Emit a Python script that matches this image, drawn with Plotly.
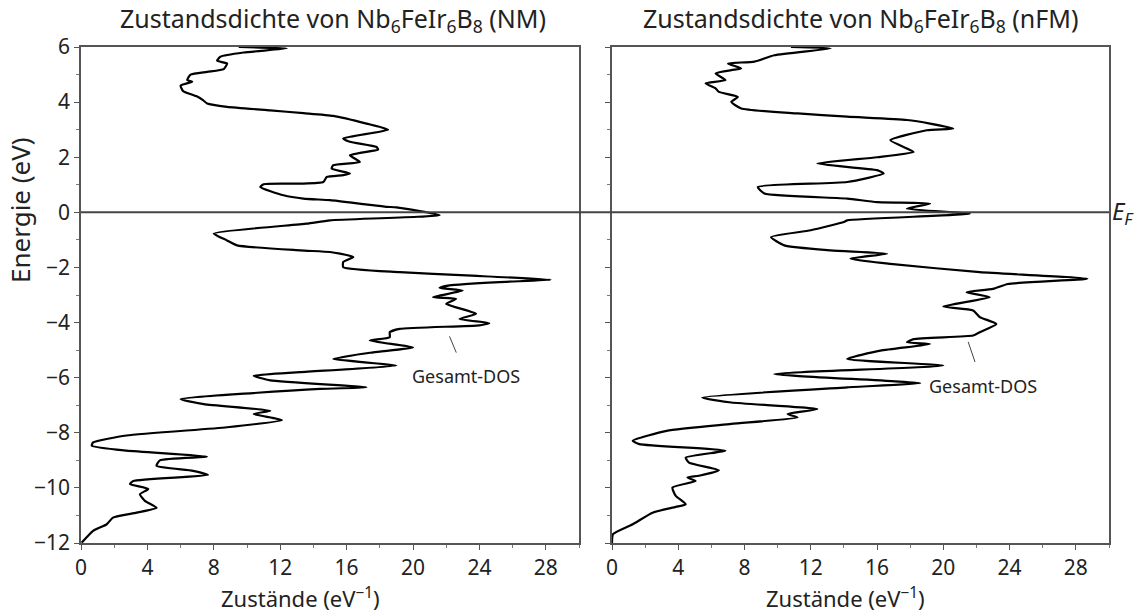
import plotly.graph_objects as go

# NM (non-magnetic) total DOS: energy (eV) and states (1/eV)
nm_energy = [6.00, 5.95, 5.80, 5.65, 5.50, 5.40, 5.20, 5.10, 5.00, 4.80, 4.74, 4.60, 4.40, 4.20, 4.07, 3.95,
             3.83, 3.70, 3.60, 3.50, 3.22, 3.00, 2.68, 2.56, 2.37, 2.28, 2.07, 1.83, 1.71, 1.59, 1.41, 1.35,
             1.28, 1.10, 1.04, 1.02, 0.92, 0.62, 0.50, 0.44, 0.30, 0.20, 0.18, -0.10, -0.29, -0.41, -0.77,
             -1.02, -1.20, -1.38, -1.44, -1.50, -1.62, -1.80, -1.99, -2.17, -2.29, -2.45, -2.53, -2.65,
             -2.74, -2.84, -3.08, -3.14, -3.32, -3.68, -3.87, -4.02, -4.10, -4.23, -4.35, -4.53, -4.65,
             -4.90, -5.08, -5.32, -5.56, -5.80, -5.93, -6.10, -6.35, -6.41, -6.78, -6.96, -7.20, -7.32,
             -7.54, -7.80, -8.10, -8.35, -8.47, -8.65, -8.87, -9.00, -9.20, -9.38, -9.53, -9.75, -9.86,
             -10.04, -10.23, -10.47, -10.72, -10.90, -11.08, -11.32, -11.56, -11.99]
nm_dos = [9.5, 12.4, 9.8, 8.4, 8.2, 8.8, 8.6, 7.6, 6.6, 6.4, 6.7, 6.0, 6.15, 7.0, 7.35, 7.6,
          8.8, 11.4, 13.4, 15.2, 17.2, 18.5, 15.8, 16.2, 17.8, 17.9, 16.2, 16.8, 15.2, 15.1, 16.2, 15.8,
          14.8, 14.6, 13.2, 11.0, 10.8, 12.2, 13.4, 15.0, 17.0, 18.4, 19.0, 21.6, 15.0, 13.6, 8.0,
          8.8, 9.4, 13.2, 15.0, 15.6, 16.4, 15.8, 15.8, 19.2, 23.2, 28.3, 25.2, 22.2,
          21.6, 23.0, 21.2, 22.6, 22.0, 23.8, 22.8, 24.6, 24.0, 19.2, 18.6, 18.6, 17.4,
          20.0, 17.6, 15.2, 19.0, 13.2, 10.4, 11.4, 17.2, 14.4, 6.0, 7.4, 11.4, 10.4,
          12.1, 8.8, 2.75, 0.73, 0.65, 2.75, 7.6, 4.75, 4.55, 6.75, 7.65, 3.15, 2.95,
          4.05, 3.55, 3.85, 4.55, 3.35, 1.93, 1.55, 0.73, 0.04]

# nFM total DOS
fm_energy = [6.00, 5.95, 5.70, 5.47, 5.40, 5.22, 5.16, 5.04, 4.80, 4.68, 4.50, 4.37, 4.19, 4.01, 3.77, 3.59,
             3.47, 3.35, 3.22, 3.04, 2.98, 2.62, 2.32, 2.19, 2.00, 1.77, 1.53, 1.41, 1.10, 0.92, 0.68, 0.50,
             0.37, 0.32, 0.13, -0.05, -0.29, -0.35, -0.65, -0.90, -1.20, -1.38, -1.50, -1.68, -1.87, -2.17,
             -2.41, -2.60, -2.78, -2.90, -3.08, -3.42, -3.56, -3.80, -4.05, -4.35, -4.47, -4.60, -4.72,
             -4.78, -5.02, -5.32, -5.56, -5.87, -6.20, -6.35, -6.72, -6.90, -7.14, -7.32, -7.44, -7.68,
             -7.93, -8.29, -8.41, -8.65, -8.90, -9.08, -9.36, -9.56, -9.62, -9.75, -9.99, -10.29, -10.59,
             -10.69, -10.90, -11.32, -11.68, -12.00]
fm_dos = [10.8, 13.2, 9.8, 8.6, 7.0, 7.8, 7.2, 6.25, 6.85, 5.65, 6.25, 6.45, 7.6, 7.2, 7.8, 11.2,
          14.2, 17.8, 19.2, 20.6, 19.0, 16.8, 17.8, 18.2, 16.0, 12.4, 16.0, 16.4, 14.2, 8.8, 9.2, 14.2,
          16.0, 19.2, 17.8, 21.6, 14.2, 14.0, 12.0, 9.6, 10.4, 13.2, 16.6, 14.4, 16.8, 22.2,
          28.7, 23.9, 23.0, 21.4, 22.8, 20.0, 21.8, 22.2, 23.2, 22.2, 21.8, 18.2, 17.8,
          19.2, 16.2, 14.2, 20.0, 9.8, 18.6, 14.2, 5.45, 7.2, 12.4, 10.6, 11.2, 7.2,
          3.3, 1.25, 1.65, 6.85, 4.45, 4.65, 6.45, 5.25, 4.55, 5.05, 3.65, 3.85, 4.45,
          3.85, 2.45, 1.25, 0.06, 0.0]

x_ticks = [0, 4, 8, 12, 16, 20, 24, 28]
y_ticks = [6, 4, 2, 0, -2, -4, -6, -8, -10, -12]

FONT = "Noto Sans"
TXT = "#222"
LINE = dict(color="black", width=2.2, shape="spline", smoothing=0.5)

fig = go.Figure()
fig.add_trace(go.Scatter(x=nm_dos, y=nm_energy, mode="lines", line=LINE, xaxis="x", yaxis="y",
                         showlegend=False, hoverinfo="skip"))
fig.add_trace(go.Scatter(x=fm_dos, y=fm_energy, mode="lines", line=LINE, xaxis="x2", yaxis="y2",
                         showlegend=False, hoverinfo="skip"))

W, H = 1134, 616
xl = (81 / W, 579 / W)
xr = (612 / W, 1109 / W)
yd = ((616 - 543) / H, (616 - 47) / H)

axcommon = dict(showline=True, linecolor="#555", linewidth=1.5, mirror=True, showgrid=False,
                zeroline=False, ticks="outside", ticklen=5, tickcolor="#555", tickwidth=1.2,
                automargin=False, tickfont=dict(family=FONT, size=21, color=TXT))
minor_x = dict(dtick=2, ticks="outside", ticklen=3, tickcolor="#777", showgrid=False)
minor_y = dict(dtick=1, ticks="outside", ticklen=3, tickcolor="#777", showgrid=False)

fig.update_layout(
    width=W, height=H, margin=dict(l=0, r=0, t=0, b=0, autoexpand=False),
    paper_bgcolor="white", plot_bgcolor="white", showlegend=False,
    xaxis=dict(domain=xl, range=[0, 30], tickvals=x_ticks, anchor="y", minor=minor_x, ticklabelstandoff=0, **axcommon),
    xaxis2=dict(domain=xr, range=[0, 30], tickvals=x_ticks, anchor="y2", minor=minor_x, ticklabelstandoff=0, **axcommon),
    yaxis=dict(domain=yd, range=[-12, 6], tickvals=y_ticks, anchor="x", minor=minor_y, **axcommon),
    yaxis2=dict(domain=yd, range=[-12, 6], tickvals=y_ticks, anchor="x2", minor=minor_y,
                showticklabels=False, **axcommon),
)

# Fermi level line across both panels
fig.add_shape(type="line", xref="paper", yref="y", x0=xl[0], x1=xr[1], y0=0, y1=0,
              line=dict(color="#444", width=2))


def txt(text, px, py, size=18, **kw):
    return dict(text=text, x=px / W, y=1 - py / H, xref="paper", yref="paper", showarrow=False,
                xanchor=kw.pop("xanchor", "center"), yanchor=kw.pop("yanchor", "middle"),
                font=dict(family=FONT, size=size, color=TXT), **kw)


ann = [
    txt("Zustandsdichte von Nb<sub>6</sub>FeIr<sub>6</sub>B<sub>8</sub> (NM)", 333, 19, size=25),
    txt("Zustandsdichte von Nb<sub>6</sub>FeIr<sub>6</sub>B<sub>8</sub> (nFM)", 860, 19, size=25),
    txt("Zustände (eV<sup>−1</sup>)", 300, 615, size=22, yanchor="bottom"),
    txt("Zustände (eV<sup>−1</sup>)", 845, 615, size=22, yanchor="bottom"),
    txt("Energie (eV)", 20, 210, size=26, textangle=-90),
    dict(text="<i>E<sub>F</sub></i>", x=1110 / W, y=0, xref="paper", yref="y", xanchor="left",
         yanchor="middle", showarrow=False, font=dict(family=FONT, size=24, color=TXT)),
    # Gesamt-DOS labels: text at the tail, pointer line ends on the curve
    dict(text="Gesamt-DOS", x=22.2, y=-4.5, xref="x", yref="y", ax=23.2, ay=-5.95,
         axref="x", ayref="y", showarrow=True, arrowhead=0, arrowwidth=1, arrowcolor="#444",
         standoff=0, startstandoff=11, font=dict(family=FONT, size=18, color=TXT)),
    dict(text="Gesamt-DOS", x=21.5, y=-4.7, xref="x2", yref="y2", ax=22.4, ay=-6.3,
         axref="x2", ayref="y2", showarrow=True, arrowhead=0, arrowwidth=1, arrowcolor="#444",
         standoff=0, startstandoff=11, font=dict(family=FONT, size=18, color=TXT)),
]
fig.update_layout(annotations=ann)

fig.write_html("out.html")
